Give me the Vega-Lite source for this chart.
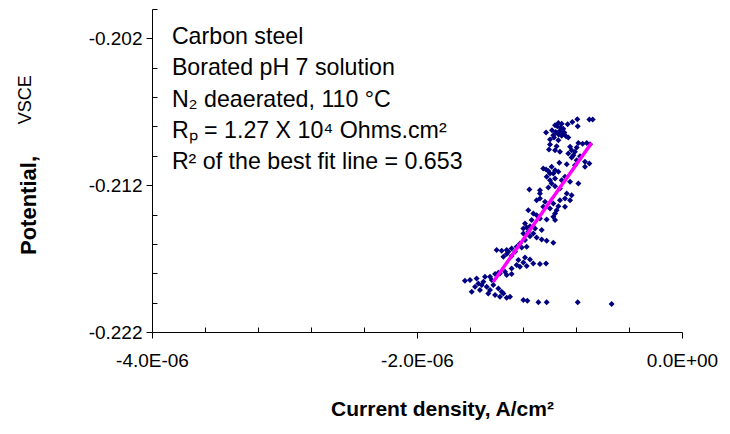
{
  "$schema": "https://vega.github.io/schema/vega-lite/v6.json",
  "autosize": "none",
  "width": 530,
  "height": 323,
  "padding": {"left": 152, "top": 9, "right": 48, "bottom": 102},
  "background": "white",
  "config": {"view": {"stroke": null}, "font": "Liberation Sans"},
  "datasets": {
    "points": [
      {"current": -7.90e-7, "potential": -0.20751},
      {"current": -6.99e-7, "potential": -0.20753},
      {"current": -6.74e-7, "potential": -0.20753},
      {"current": -8.28e-7, "potential": -0.20769},
      {"current": -9.33e-7, "potential": -0.20776},
      {"current": -9.08e-7, "potential": -0.20781},
      {"current": -8.63e-7, "potential": -0.20785},
      {"current": -7.87e-7, "potential": -0.20799},
      {"current": -9.41e-7, "potential": -0.20799},
      {"current": -9.16e-7, "potential": -0.20808},
      {"current": -8.96e-7, "potential": -0.20815},
      {"current": -9.81e-7, "potential": -0.20826},
      {"current": -1.026e-6, "potential": -0.20842},
      {"current": -9.53e-7, "potential": -0.20837},
      {"current": -8.88e-7, "potential": -0.20842},
      {"current": -9.31e-7, "potential": -0.20855},
      {"current": -9.71e-7, "potential": -0.2086},
      {"current": -9.08e-7, "potential": -0.20864},
      {"current": -8.75e-7, "potential": -0.20867},
      {"current": -8.58e-7, "potential": -0.20876},
      {"current": -9.96e-7, "potential": -0.20889},
      {"current": -9.33e-7, "potential": -0.20894},
      {"current": -7.82e-7, "potential": -0.20912},
      {"current": -7.50e-7, "potential": -0.20917},
      {"current": -7.19e-7, "potential": -0.20912},
      {"current": -6.94e-7, "potential": -0.20921},
      {"current": -9.96e-7, "potential": -0.20923},
      {"current": -9.46e-7, "potential": -0.20935},
      {"current": -8.45e-7, "potential": -0.20939},
      {"current": -7.95e-7, "potential": -0.20944},
      {"current": -1.004e-6, "potential": -0.20957},
      {"current": -9.58e-7, "potential": -0.20962},
      {"current": -9.21e-7, "potential": -0.20973},
      {"current": -8.58e-7, "potential": -0.20985},
      {"current": -8.20e-7, "potential": -0.20996},
      {"current": -7.70e-7, "potential": -0.21003},
      {"current": -8.33e-7, "potential": -0.21012},
      {"current": -7.95e-7, "potential": -0.2103},
      {"current": -7.32e-7, "potential": -0.21041},
      {"current": -6.99e-7, "potential": -0.21053},
      {"current": -8.08e-7, "potential": -0.21064},
      {"current": -7.32e-7, "potential": -0.21075},
      {"current": -9.26e-7, "potential": -0.21048},
      {"current": -8.70e-7, "potential": -0.21057},
      {"current": -9.84e-7, "potential": -0.21075},
      {"current": -1.047e-6, "potential": -0.21087},
      {"current": -1.009e-6, "potential": -0.21103},
      {"current": -9.58e-7, "potential": -0.21098},
      {"current": -9.33e-7, "potential": -0.21109},
      {"current": -9.96e-7, "potential": -0.21121},
      {"current": -1.021e-6, "potential": -0.21143},
      {"current": -9.58e-7, "potential": -0.21155},
      {"current": -9.08e-7, "potential": -0.21166},
      {"current": -8.45e-7, "potential": -0.21177},
      {"current": -7.82e-7, "potential": -0.21189},
      {"current": -9.84e-7, "potential": -0.21189},
      {"current": -1.072e-6, "potential": -0.21234},
      {"current": -1.152e-6, "potential": -0.21229},
      {"current": -1.009e-6, "potential": -0.21216},
      {"current": -9.58e-7, "potential": -0.21207},
      {"current": -9.21e-7, "potential": -0.21223},
      {"current": -8.70e-7, "potential": -0.21257},
      {"current": -8.33e-7, "potential": -0.21268},
      {"current": -8.83e-7, "potential": -0.21291},
      {"current": -8.45e-7, "potential": -0.21302},
      {"current": -1.072e-6, "potential": -0.21291},
      {"current": -1.034e-6, "potential": -0.21313},
      {"current": -9.71e-7, "potential": -0.21325},
      {"current": -9.33e-7, "potential": -0.21343},
      {"current": -8.83e-7, "potential": -0.21347},
      {"current": -9.96e-7, "potential": -0.21359},
      {"current": -9.58e-7, "potential": -0.21393},
      {"current": -1.160e-6, "potential": -0.2137},
      {"current": -1.122e-6, "potential": -0.21393},
      {"current": -1.097e-6, "potential": -0.21404},
      {"current": -1.072e-6, "potential": -0.21427},
      {"current": -1.021e-6, "potential": -0.21434},
      {"current": -9.71e-7, "potential": -0.21415},
      {"current": -9.58e-7, "potential": -0.21438},
      {"current": -1.185e-6, "potential": -0.21461},
      {"current": -1.147e-6, "potential": -0.21479},
      {"current": -1.197e-6, "potential": -0.21495},
      {"current": -1.160e-6, "potential": -0.21517},
      {"current": -1.109e-6, "potential": -0.21495},
      {"current": -1.059e-6, "potential": -0.21506},
      {"current": -1.197e-6, "potential": -0.21529},
      {"current": -1.147e-6, "potential": -0.21547},
      {"current": -1.097e-6, "potential": -0.21556},
      {"current": -1.059e-6, "potential": -0.2157},
      {"current": -1.021e-6, "potential": -0.21579},
      {"current": -9.71e-7, "potential": -0.21592},
      {"current": -1.185e-6, "potential": -0.21574},
      {"current": -1.248e-6, "potential": -0.2162},
      {"current": -1.210e-6, "potential": -0.21624},
      {"current": -1.172e-6, "potential": -0.2162},
      {"current": -1.286e-6, "potential": -0.21631},
      {"current": -1.311e-6, "potential": -0.21654},
      {"current": -1.399e-6, "potential": -0.21642},
      {"current": -1.361e-6, "potential": -0.21647},
      {"current": -1.323e-6, "potential": -0.21669},
      {"current": -1.286e-6, "potential": -0.21683},
      {"current": -1.235e-6, "potential": -0.2171},
      {"current": -1.185e-6, "potential": -0.21692},
      {"current": -1.147e-6, "potential": -0.21706},
      {"current": -1.122e-6, "potential": -0.21733},
      {"current": -1.072e-6, "potential": -0.21737},
      {"current": -1.026e-6, "potential": -0.21733},
      {"current": -1.223e-6, "potential": -0.21756},
      {"current": -1.172e-6, "potential": -0.21751},
      {"current": -1.286e-6, "potential": -0.21767},
      {"current": -1.336e-6, "potential": -0.2179},
      {"current": -1.386e-6, "potential": -0.21796},
      {"current": -1.411e-6, "potential": -0.21805},
      {"current": -1.323e-6, "potential": -0.21812},
      {"current": -1.286e-6, "potential": -0.21805},
      {"current": -1.487e-6, "potential": -0.21824},
      {"current": -1.449e-6, "potential": -0.21824},
      {"current": -1.550e-6, "potential": -0.21835},
      {"current": -1.600e-6, "potential": -0.21846},
      {"current": -1.638e-6, "potential": -0.21851},
      {"current": -1.537e-6, "potential": -0.21869},
      {"current": -1.512e-6, "potential": -0.2188},
      {"current": -1.474e-6, "potential": -0.21892},
      {"current": -1.424e-6, "potential": -0.2188},
      {"current": -1.386e-6, "potential": -0.21903},
      {"current": -1.361e-6, "potential": -0.21926},
      {"current": -1.587e-6, "potential": -0.21926},
      {"current": -1.525e-6, "potential": -0.21914},
      {"current": -1.462e-6, "potential": -0.21937},
      {"current": -1.411e-6, "potential": -0.21948},
      {"current": -1.374e-6, "potential": -0.2196},
      {"current": -1.323e-6, "potential": -0.21966},
      {"current": -1.298e-6, "potential": -0.2196},
      {"current": -1.197e-6, "potential": -0.21982},
      {"current": -1.167e-6, "potential": -0.21987},
      {"current": -1.084e-6, "potential": -0.21998},
      {"current": -1.021e-6, "potential": -0.21998},
      {"current": -7.87e-7, "potential": -0.21998},
      {"current": -5.31e-7, "potential": -0.2201},
      {"current": -9.58e-7, "potential": -0.20792},
      {"current": -9.21e-7, "potential": -0.2083},
      {"current": -9.01e-7, "potential": -0.20849},
      {"current": -9.66e-7, "potential": -0.20876},
      {"current": -8.33e-7, "potential": -0.20962},
      {"current": -8.08e-7, "potential": -0.20973},
      {"current": -1.026e-6, "potential": -0.21093},
      {"current": -9.71e-7, "potential": -0.21121},
      {"current": -1.072e-6, "potential": -0.21257},
      {"current": -1.097e-6, "potential": -0.21302},
      {"current": -1.047e-6, "potential": -0.21347},
      {"current": -1.135e-6, "potential": -0.21438},
      {"current": -1.172e-6, "potential": -0.21488},
      {"current": -1.122e-6, "potential": -0.21529},
      {"current": -1.223e-6, "potential": -0.21597},
      {"current": -1.323e-6, "potential": -0.21642},
      {"current": -1.260e-6, "potential": -0.21654},
      {"current": -1.348e-6, "potential": -0.21688},
      {"current": -1.374e-6, "potential": -0.21801},
      {"current": -1.436e-6, "potential": -0.21846},
      {"current": -1.499e-6, "potential": -0.21858},
      {"current": -1.562e-6, "potential": -0.21892},
      {"current": -1.449e-6, "potential": -0.21914},
      {"current": -1.348e-6, "potential": -0.21937},
      {"current": -1.248e-6, "potential": -0.21744},
      {"current": -1.197e-6, "potential": -0.21726},
      {"current": -9.96e-7, "potential": -0.21166},
      {"current": -8.83e-7, "potential": -0.21143},
      {"current": -9.21e-7, "potential": -0.21302},
      {"current": -9.46e-7, "potential": -0.2137}
    ],
    "fit": [
      {"current": -1.424e-6, "potential": -0.21858},
      {"current": -6.83e-7, "potential": -0.20912}
    ],
    "notes": [
      {"note": ["Carbon steel", "Borated pH 7 solution", "N₂ deaerated, 110 °C", "Rₚ = 1.27 X 10⁴ Ohms.cm²", "R² of the best fit line = 0.653"]}
    ],
    "unit": [{"unit": "VSCE"}]
  },
  "layer": [
    {
      "data": {"name": "points"},
      "mark": {"type": "point", "shape": "diamond", "filled": true, "size": 36, "color": "#000080", "opacity": 1},
      "encoding": {
        "x": {
          "field": "current", "type": "quantitative",
          "scale": {"domain": [-4e-6, 0], "nice": false, "zero": false},
          "axis": {
            "title": "Current density, A/cm²",
            "titleFontSize": 21, "titleFontWeight": "bold", "titleColor": "black", "titlePadding": 28,
            "titleX": 290, "titleAlign": "center",
            "values": [-4e-6, -3.6e-6, -3.2e-6, -2.8e-6, -2.4e-6, -2e-6, -1.6e-6, -1.2e-6, -8e-7, -4e-7, 0],
            "tickCount": 30,
            "labelExpr": "abs(datum.value + 4e-6) < 1e-9 ? '-4.0E-06' : abs(datum.value + 2e-6) < 1e-9 ? '-2.0E-06' : abs(datum.value) < 1e-9 ? '0.0E+00' : ''",
            "labelFontSize": 19, "labelColor": "black", "labelPadding": 13, "labelFlush": false, "labelOverlap": false,
            "grid": false, "domainColor": "black", "tickColor": "black",
            "tickSize": {"condition": {"test": "abs(datum.value + 4e-6) < 1e-9 || abs(datum.value + 2e-6) < 1e-9 || abs(datum.value) < 1e-9", "value": 6}, "value": -5}
          }
        },
        "y": {
          "field": "potential", "type": "quantitative",
          "scale": {"domain": [-0.222, -0.2], "nice": false, "zero": false},
          "axis": {
            "title": "Potential,",
            "titleFontSize": 22, "titleFontWeight": "bold", "titleColor": "black",
            "titleAngle": 270, "titleAlign": "center", "titleBaseline": "alphabetic",
            "titleX": -117, "titleY": 196,
            "values": [-0.222, -0.22, -0.218, -0.216, -0.214, -0.212, -0.21, -0.208, -0.206, -0.204, -0.202, -0.2],
            "tickCount": 30,
            "labelExpr": "abs(datum.value + 0.222) < 1e-6 ? '-0.222' : abs(datum.value + 0.212) < 1e-6 ? '-0.212' : abs(datum.value + 0.202) < 1e-6 ? '-0.202' : ''",
            "labelFontSize": 19, "labelColor": "black", "labelPadding": 4, "labelFlush": false, "labelOverlap": false,
            "grid": false, "domainColor": "black", "tickColor": "black",
            "tickSize": {"condition": {"test": "abs(datum.value + 0.222) < 1e-6 || abs(datum.value + 0.212) < 1e-6 || abs(datum.value + 0.202) < 1e-6", "value": 6}, "value": -5}
          }
        }
      }
    },
    {
      "data": {"name": "fit"},
      "mark": {"type": "line", "color": "#FF00FF", "strokeWidth": 3.5},
      "encoding": {
        "x": {"field": "current", "type": "quantitative"},
        "y": {"field": "potential", "type": "quantitative"}
      }
    },
    {
      "data": {"name": "notes"},
      "mark": {"type": "text", "align": "left", "baseline": "alphabetic", "fontSize": 23.2, "lineHeight": 31.3, "color": "black"},
      "encoding": {
        "x": {"datum": -3.85e-6, "type": "quantitative"},
        "y": {"datum": -0.20238, "type": "quantitative"},
        "text": {"field": "note"}
      }
    },
    {
      "data": {"name": "unit"},
      "mark": {"type": "text", "align": "center", "baseline": "alphabetic", "angle": 270, "fontSize": 18, "color": "black"},
      "encoding": {
        "x": {"datum": -4.91e-6, "type": "quantitative"},
        "y": {"datum": -0.20618, "type": "quantitative"},
        "text": {"field": "unit"}
      }
    }
  ]
}
